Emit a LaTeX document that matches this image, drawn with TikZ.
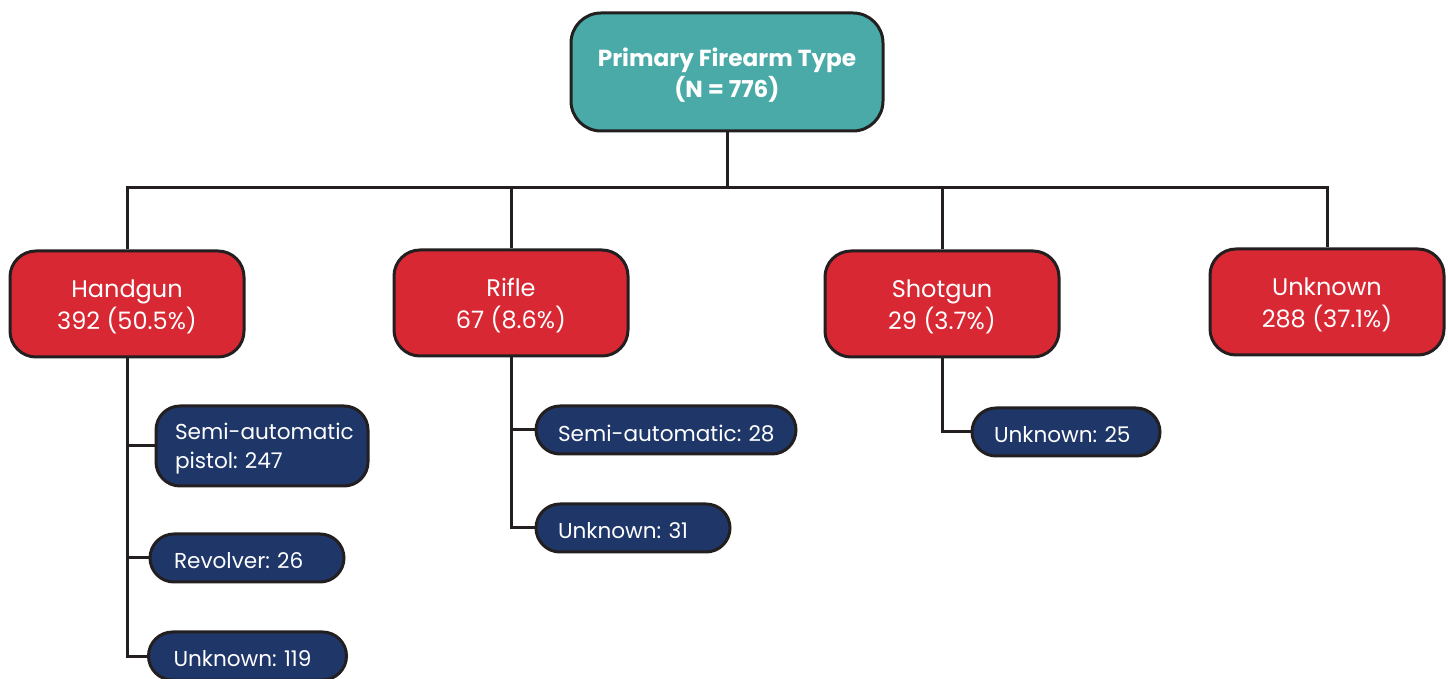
\documentclass[tikz,border=0pt]{standalone}
\usepackage{fontspec}
\setmainfont{Poppins}
\frenchspacing
\newcommand{\pushdown}[1]{\raisebox{0pt}[\dimexpr\height+3pt\relax]{#1}}
\definecolor{cTeal}{HTML}{4AAAA8}
\definecolor{cRed}{HTML}{D72833}
\definecolor{cNavy}{HTML}{1E3668}
\definecolor{cLine}{HTML}{231F20}
\begin{document}
\begin{tikzpicture}[x=0.5pt,y=-0.5pt,
  box/.style={draw=cLine, line width=1.5pt, text=white, inner sep=0pt},
  rootbox/.style={box, fill=cTeal, minimum width=156pt, minimum height=59pt, rounded corners=15pt, align=center, font=\bfseries\fontsize{11.6}{15.5}\selectfont},
  catbox/.style={box, fill=cRed, minimum width=117pt, minimum height=53pt, rounded corners=13pt, align=center, font=\fontsize{12}{16}\selectfont},
  subbox/.style={box, fill=cNavy, rounded corners=12pt, align=left, inner xsep=11pt, font=\fontsize{10.8}{14.5}\selectfont},
  conn/.style={draw=cLine, line width=1.5pt}
]
\useasboundingbox (0,0) rectangle (1448,679);
\node[rootbox] (root) at (727,72) {\pushdown{Primary Firearm Type}\\(N = 776)};
\node[catbox] (hand) at (127,304) {\pushdown{Handgun}\\392 (50.5\%)};
\node[catbox] (rifle) at (511,303) {\pushdown{Rifle}\\67 (8.6\%)};
\node[catbox] (shot) at (942,304) {\pushdown{Shotgun}\\29 (3.7\%)};
\node[catbox] (unk) at (1327,302) {\pushdown{Unknown}\\288 (37.1\%)};
\node[subbox, text width=87pt, minimum height=40pt, inner xsep=9.5pt] (hs) at (262,446) {\pushdown{Semi-automatic}\\\mbox{pistol: 247}};
\node[subbox, text width=73pt, minimum height=24pt, inner xsep=12pt] (hr) at (247,558) {\pushdown{Revolver: 26}};
\node[subbox, text width=74pt, minimum height=24pt, inner xsep=12.5pt] (hu) at (247.5,656) {\pushdown{Unknown: 119}};
\node[subbox, text width=108pt, minimum height=24pt] (rs) at (666,430) {\pushdown{Semi-automatic: 28}};
\node[subbox, text width=75pt, minimum height=24pt] (ru) at (633,528) {\pushdown{Unknown: 31}};
\node[subbox, text width=72pt, minimum height=24pt] (su) at (1066,432) {\pushdown{Unknown: 25}};
\coordinate (bus) at (727,188);
\draw[conn] (root.south) -- (root.south |- bus);
\draw[conn] (hand.north) -- (hand.north |- bus) -- (unk.north |- bus) -- (unk.north);
\draw[conn] (rifle.north) -- (rifle.north |- bus);
\draw[conn] (shot.north) -- (shot.north |- bus);
\draw[conn] (hand.south) |- (hu.west);
\draw[conn] (hand.south |- hs.west) -- (hs.west);
\draw[conn] (hand.south |- hr.west) -- (hr.west);
\draw[conn] (rifle.south) |- (ru.west);
\draw[conn] (rifle.south |- rs.west) -- (rs.west);
\draw[conn] (shot.south) |- (su.west);
\end{tikzpicture}
\end{document}
